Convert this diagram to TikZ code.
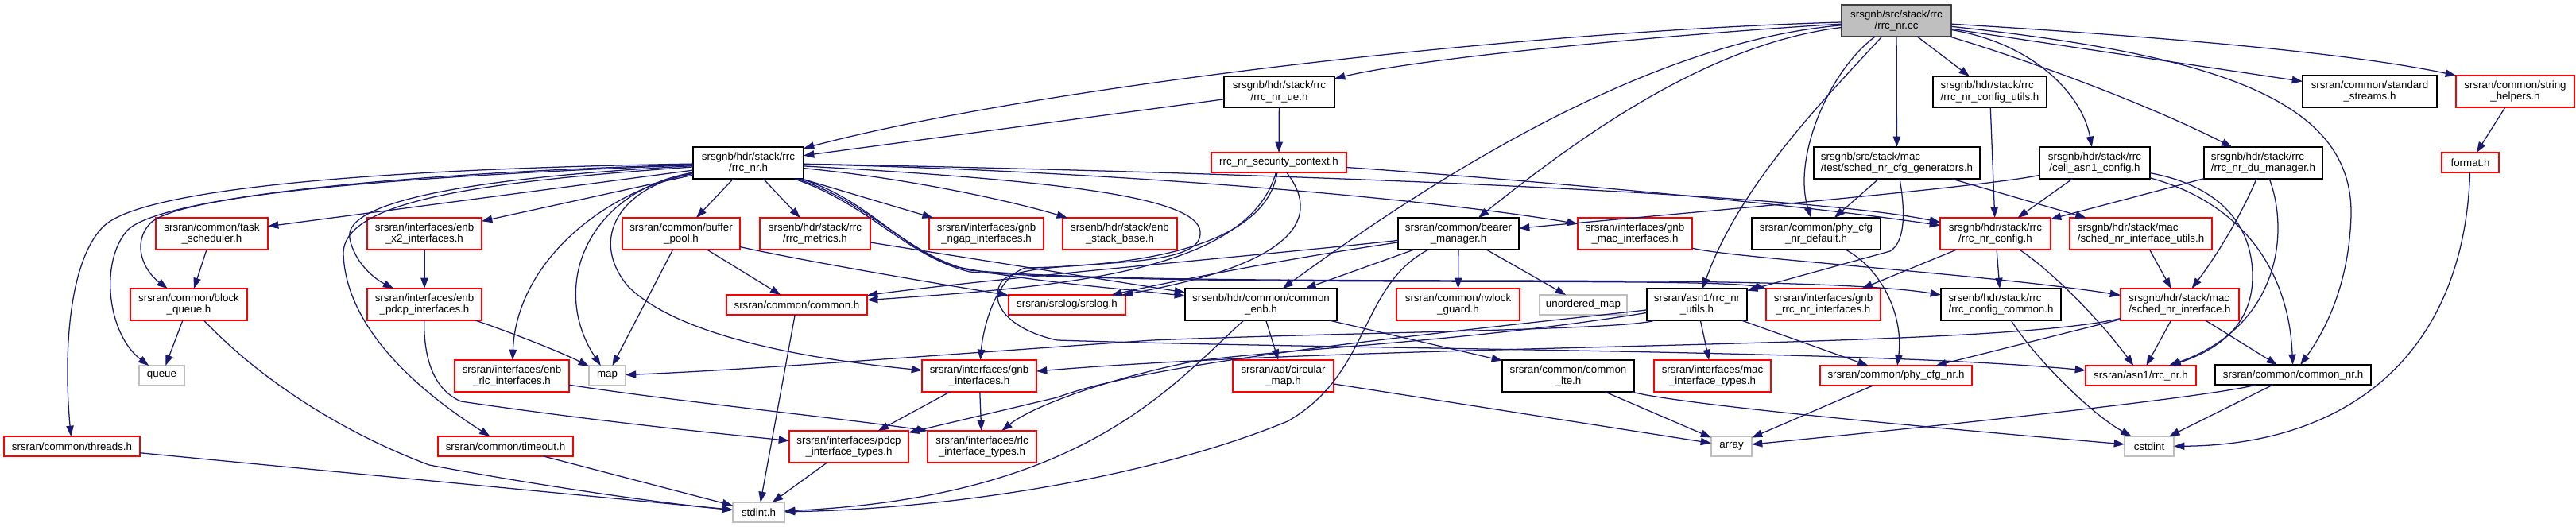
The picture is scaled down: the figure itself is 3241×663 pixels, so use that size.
\documentclass[tikz,border=0pt]{standalone}
\usepackage{fontspec}
\setmainfont{Liberation Sans}
\usetikzlibrary{arrows.meta}
\definecolor{edgeblue}{HTML}{191970}
\definecolor{nodegray}{HTML}{BFBFBF}
\definecolor{rootborder}{HTML}{404040}
\tikzset{
  nd/.style={rectangle, inner sep=0pt, outer sep=0pt, font=\fontsize{10}{11}\selectfont, align=center, line width=0.85pt, fill=white},
  blk/.style={nd, draw=black},
  rd/.style={nd, draw=red},
  gr/.style={nd, draw=nodegray},
  rootn/.style={nd, draw=rootborder, fill=nodegray},
  edg/.style={draw=edgeblue, line width=0.95pt, -{Triangle[length=10pt,width=7pt]}}
}
\newcommand{\mkbox}[7]{%
  \pgfmathsetmacro\bxw{(#4-#2)*0.75}%
  \pgfmathsetmacro\bxh{(#5-#3)*0.75}%
  \pgfmathsetmacro\bxx{(#2+#4)/2}%
  \pgfmathsetmacro\bxy{(#3+#5)/2}%
  \node[#6, minimum width=\bxw pt, minimum height=\bxh pt] (#1) at (\bxx,\bxy) {#7};}
\begin{document}
\begin{tikzpicture}[x=0.75pt,y=-0.75pt]
\fill[white] (0,0) rectangle (3241,663);
\useasboundingbox (0,0) rectangle (3241,663);
% row 0
\mkbox{cc}{2317}{6}{2455}{46}{rootn}{srsgnb/src/stack/rrc\\/rrc\_nr.cc}
% row 1
\mkbox{ue}{1540}{96}{1679}{135}{blk}{srsgnb/hdr/stack/rrc\\/rrc\_nr\_ue.h}
\mkbox{cfgutils}{2432}{96}{2575}{135}{blk,align=left}{srsgnb/hdr/stack/rrc\\/rrc\_nr\_config\_utils.h}
\mkbox{stdstreams}{2897}{95}{3066}{135}{blk}{srsran/common/standard\\\_streams.h}
\mkbox{strhelpers}{3090}{95}{3239}{135}{rd}{srsran/common/string\\\_helpers.h}
% row 2
\mkbox{rrcnr}{872}{185}{1011}{225}{blk}{srsgnb/hdr/stack/rrc\\/rrc\_nr.h}
\mkbox{secctx}{1524}{192}{1694}{217}{rd}{rrc\_nr\_security\_context.h}
\mkbox{cfggen}{2282}{185}{2491}{225}{blk,align=left}{srsgnb/src/stack/mac\\/test/sched\_nr\_cfg\_generators.h}
\mkbox{cellasn1}{2566}{185}{2705}{225}{blk}{srsgnb/hdr/stack/rrc\\/cell\_asn1\_config.h}
\mkbox{dumgr}{2773}{185}{2922}{225}{blk,align=left}{srsgnb/hdr/stack/rrc\\/rrc\_nr\_du\_manager.h}
\mkbox{format}{3072}{192}{3144}{217}{rd}{format.h}
% row 3
\mkbox{tasksch}{196}{274}{337}{314}{rd}{srsran/common/task\\\_scheduler.h}
\mkbox{x2}{462}{274}{606}{314}{rd}{srsran/interfaces/enb\\\_x2\_interfaces.h}
\mkbox{bufpool}{783}{274}{931}{314}{rd}{srsran/common/buffer\\\_pool.h}
\mkbox{rrcmetrics}{956}{274}{1095}{314}{rd}{srsenb/hdr/stack/rrc\\/rrc\_metrics.h}
\mkbox{ngap}{1169}{274}{1313}{314}{rd}{srsran/interfaces/gnb\\\_ngap\_interfaces.h}
\mkbox{stackbase}{1337}{274}{1481}{314}{rd}{srsenb/hdr/stack/enb\\\_stack\_base.h}
\mkbox{bearer}{1759}{274}{1911}{314}{blk}{srsran/common/bearer\\\_manager.h}
\mkbox{macif}{1985}{274}{2129}{314}{rd}{srsran/interfaces/gnb\\\_mac\_interfaces.h}
\mkbox{phydef}{2204}{274}{2366}{314}{blk}{srsran/common/phy\_cfg\\\_nr\_default.h}
\mkbox{rrccfg}{2441}{274}{2580}{314}{rd}{srsgnb/hdr/stack/rrc\\/rrc\_nr\_config.h}
\mkbox{schedutils}{2604}{274}{2783}{314}{rd,align=left}{srsgnb/hdr/stack/mac\\/sched\_nr\_interface\_utils.h}
% row 4
\mkbox{blockq}{164}{363}{311}{403}{rd}{srsran/common/block\\\_queue.h}
\mkbox{pdcpif}{462}{363}{606}{403}{rd}{srsran/interfaces/enb\\\_pdcp\_interfaces.h}
\mkbox{common}{914}{371}{1091}{396}{rd}{srsran/common/common.h}
\mkbox{srslog}{1269}{371}{1416}{396}{rd}{srsran/srslog/srslog.h}
\mkbox{commonenb}{1491}{363}{1682}{403}{blk}{srsenb/hdr/common/common\\\_enb.h}
\mkbox{rwlock}{1757}{363}{1912}{403}{rd}{srsran/common/rwlock\\\_guard.h}
\mkbox{umap}{1937}{371}{2047}{396}{gr}{unordered\_map}
\mkbox{nrutils}{2072}{363}{2198}{403}{blk}{srsran/asn1/rrc\_nr\\\_utils.h}
\mkbox{rrcnrif}{2222}{363}{2366}{403}{rd}{srsran/interfaces/gnb\\\_rrc\_nr\_interfaces.h}
\mkbox{cfgcommon}{2442}{363}{2593}{403}{blk,align=left}{srsenb/hdr/stack/rrc\\/rrc\_config\_common.h}
\mkbox{schedif}{2668}{363}{2817}{403}{rd,align=left}{srsgnb/hdr/stack/mac\\/sched\_nr\_interface.h}
% row 5
\mkbox{queue}{175}{460}{232}{485}{gr}{queue}
\mkbox{rlcif}{572}{453}{716}{493}{rd}{srsran/interfaces/enb\\\_rlc\_interfaces.h}
\mkbox{map}{741}{460}{787}{485}{gr}{map}
\mkbox{gnbif}{1160}{453}{1304}{493}{rd}{srsran/interfaces/gnb\\\_interfaces.h}
\mkbox{cmap}{1551}{453}{1678}{493}{rd}{srsran/adt/circular\\\_map.h}
\mkbox{commonlte}{1890}{453}{2056}{493}{blk}{srsran/common/common\\\_lte.h}
\mkbox{mactypes}{2081}{453}{2228}{493}{rd}{srsran/interfaces/mac\\\_interface\_types.h}
\mkbox{phycfg}{2290}{460}{2481}{485}{rd}{srsran/common/phy\_cfg\_nr.h}
\mkbox{asn1rrc}{2624}{460}{2763}{485}{rd}{srsran/asn1/rrc\_nr.h}
\mkbox{commonnr}{2787}{459}{2983}{484}{blk}{srsran/common/common\_nr.h}
% row 6
\mkbox{threads}{5}{549}{176}{574}{rd}{srsran/common/threads.h}
\mkbox{timeout}{551}{549}{721}{574}{rd}{srsran/common/timeout.h}
\mkbox{pdcptypes}{993}{542}{1143}{582}{rd}{srsran/interfaces/pdcp\\\_interface\_types.h}
\mkbox{rlctypes}{1167}{542}{1304}{582}{rd}{srsran/interfaces/rlc\\\_interface\_types.h}
\mkbox{array}{2153}{549}{2204}{574}{gr}{array}
\mkbox{cstdint}{2673}{549}{2735}{574}{gr}{cstdint}
% row 7
\mkbox{stdint}{922}{632}{987}{657}{gr}{stdint.h}

% ---- edges from rrc_nr.cc
\draw[edg] (cc) .. controls (1900,40) and (1300,110) .. (rrcnr);
\draw[edg] (cc) .. controls (2150,40) and (1800,70) .. (ue);
\draw[edg] (cc) -- (cfgutils);
\draw[edg] (cc) -- (cfggen);
\draw[edg] (cc) .. controls (2560,55) and (2620,120) .. (cellasn1);
\draw[edg] (cc) .. controls (2550,75) and (2700,130) .. (dumgr);
\draw[edg] (cc) -- (stdstreams);
\draw[edg] (cc) .. controls (2700,45) and (2950,65) .. (strhelpers.north west);
\draw[edg] (cc) .. controls (2800,70) and (2960,130) .. (2958,270) .. controls (2956,350) and (2930,410) .. (commonnr);
\draw[edg] (cc) .. controls (2150,55) and (1990,170) .. (bearer);
\draw[edg] (cc) .. controls (2100,50) and (1850,190) .. (commonenb);
\draw[edg] (cc) .. controls (2300,120) and (2190,230) .. (nrutils);
\draw[edg] (cc) .. controls (2300,90) and (2255,200) .. (phydef);
% ---- second level
\draw[edg] (ue) -- (rrcnr);
\draw[edg] (ue) -- (secctx);
\draw[edg] (strhelpers) -- (format);
\draw[edg] (format) .. controls (3100,450) and (2950,560) .. (cstdint);
\draw[edg] (cfgutils) -- (rrccfg);
\draw[edg] (cfggen) -- (phydef);
\draw[edg] (cfggen) -- (schedutils);
\draw[edg] (cfggen) .. controls (2398,270) and (2396,305) .. (2378,316) -- (nrutils);
\draw[edg] (cellasn1) .. controls (2500,235) and (2100,270) .. (bearer);
\draw[edg] (cellasn1) -- (rrccfg);
\draw[edg] (cellasn1) .. controls (2800,235) and (2835,290) .. (2834,350) .. controls (2833,410) and (2790,440) .. (asn1rrc);
\draw[edg] (cellasn1) .. controls (2820,255) and (2880,340) .. (commonnr);
\draw[edg] (dumgr) -- (rrccfg);
\draw[edg] (dumgr) .. controls (2820,270) and (2790,320) .. (schedif);
\draw[edg] (dumgr) .. controls (2880,290) and (2870,410) .. (asn1rrc);
\draw[edg] (phydef) .. controls (2370,340) and (2395,400) .. (phycfg);
\draw[edg] (rrccfg) -- (rrcnrif);
\draw[edg] (rrccfg) -- (cfgcommon);
\draw[edg] (rrccfg) .. controls (2580,340) and (2640,400) .. (asn1rrc);
\draw[edg] (schedutils) -- (schedif);
\draw[edg] (schedif) -- (asn1rrc);
\draw[edg] (schedif) -- (commonnr);
\draw[edg] (schedif) -- (phycfg);
\draw[edg] (schedif) .. controls (2500,440) and (1750,430) .. (gnbif);
\draw[edg] (macif) .. controls (2180,325) and (2500,345) .. (schedif);
\draw[edg] (nrutils) -- (mactypes);
\draw[edg] (nrutils) -- (phycfg);
\draw[edg] (nrutils) .. controls (1800,420) and (1450,455) .. (1330,500) -- (pdcptypes);
\draw[edg] (nrutils) .. controls (1850,430) and (1600,440) .. (1500,455) .. controls (1400,475) and (1300,510) .. (rlctypes);
\draw[edg] (nrutils) .. controls (2050,415) and (1700,418) .. (1450,428) .. controls (1200,445) and (950,465) .. (map);
\draw[edg] (bearer) -- (rwlock);
\draw[edg] (bearer) -- (umap);
\draw[edg] (bearer) -- (commonenb);
\draw[edg] (bearer) .. controls (1710,360) and (1725,470) .. (1620,530) .. controls (1450,600) and (1200,640) .. (stdint);
\draw[edg] (bearer) .. controls (1600,320) and (1250,350) .. (common);
\draw[edg] (bearer) .. controls (1620,325) and (1470,355) .. (srslog);
\draw[edg] (secctx) .. controls (1900,225) and (2250,255) .. (rrccfg);
\draw[edg] (secctx) .. controls (1570,340) and (1350,360) .. (common);
\draw[edg] (secctx) .. controls (1660,270) and (1640,330) .. (srslog);
\draw[edg] (secctx) .. controls (1590,320) and (1400,335) .. (1290,337) .. controls (1250,350) and (1236,420) .. (gnbif);
\draw[edg] (commonenb) -- (cmap);
\draw[edg] (commonenb) -- (commonlte);
\draw[edg] (commonenb) .. controls (1470,490) and (1360,625) .. (stdint);
\draw[edg] (commonlte) -- (array);
\draw[edg] (commonlte) .. controls (2120,510) and (2450,540) .. (cstdint);
\draw[edg] (cmap) -- (array);
\draw[edg] (phycfg) -- (array);
\draw[edg] (commonnr) .. controls (2780,500) and (2400,540) .. (array);
\draw[edg] (commonnr) -- (cstdint);
\draw[edg] (cfgcommon) .. controls (2560,450) and (2630,520) .. (cstdint);
\draw[edg] (rrcmetrics) -- (commonenb);
\draw[edg] (bufpool) -- (common);
\draw[edg] (bufpool) -- (map);
\draw[edg] (bufpool) .. controls (1000,326) and (1150,352) .. (srslog);
\draw[edg] (common) -- (stdint);
\draw[edg] (tasksch) -- (blockq);
\draw[edg] (blockq) -- (queue);
\draw[edg] (blockq) .. controls (320,470) and (420,540) .. (540,585) .. controls (700,615) and (850,635) .. (stdint);
\draw[edg] (threads) -- (stdint);
\draw[edg] (timeout) -- (stdint);
\draw[edg] (x2) -- (pdcpif);
\draw[edg] (pdcpif) .. controls (620,410) and (700,440) .. (map);
\draw[edg] (pdcpif) .. controls (533,450) and (545,490) .. (580,505) .. controls (750,530) and (900,545) .. (pdcptypes);
\draw[edg] (rlcif) .. controls (850,505) and (1050,525) .. (rlctypes.north west);
\draw[edg] (gnbif) -- (pdcptypes);
\draw[edg] (gnbif) -- (rlctypes);
\draw[edg] (pdcptypes) -- (stdint);
% ---- edges from rrc_nr.h
\draw[edg] (rrcnr) .. controls (500,212) and (180,235) .. (130,285) .. controls (85,330) and (80,450) .. (threads);
\draw[edg] (rrcnr) .. controls (500,218) and (200,248) .. (160,290) .. controls (125,330) and (135,420) .. (queue);
\draw[edg] (rrcnr) .. controls (500,222) and (230,245) .. (190,280) .. controls (165,305) and (180,340) .. (blockq);
\draw[edg] (rrcnr) -- (tasksch);
\draw[edg] (rrcnr) -- (x2);
\draw[edg] (rrcnr) .. controls (620,222) and (430,250) .. (440,300) .. controls (446,330) and (470,350) .. (pdcpif);
\draw[edg] (rrcnr) .. controls (620,228) and (430,250) .. (432,320) .. controls (436,420) and (540,500) .. (timeout);
\draw[edg] (rrcnr) .. controls (760,240) and (650,330) .. (rlcif);
\draw[edg] (rrcnr) .. controls (740,240) and (690,360) .. (map);
\draw[edg] (rrcnr) -- (bufpool);
\draw[edg] (rrcnr) -- (rrcmetrics);
\draw[edg] (rrcnr) -- (ngap);
\draw[edg] (rrcnr) .. controls (1150,225) and (1280,255) .. (stackbase);
\draw[edg] (rrcnr) .. controls (1400,215) and (1800,250) .. (macif);
\draw[edg] (rrcnr) .. controls (780,235) and (740,300) .. (790,360) .. controls (850,420) and (1000,450) .. (gnbif);
\draw[edg] (rrcnr) .. controls (1090,250) and (1130,310) .. (1200,335) .. controls (1300,355) and (1400,362) .. (commonenb);
\draw[edg] (rrcnr) .. controls (1500,215) and (2250,240) .. (rrccfg);
\draw[edg] (rrcnr) .. controls (1095,255) and (1140,320) .. (1220,340) .. controls (1500,365) and (2250,340) .. (cfgcommon);
\draw[edg] (rrcnr) .. controls (1095,258) and (1140,322) .. (1220,342) .. controls (1500,362) and (2150,348) .. (rrcnrif.north west);
\draw[edg] (rrcnr) .. controls (1350,228) and (1515,250) .. (1510,295) .. controls (1508,345) and (1300,322) .. (1262,352) .. controls (1240,380) and (1270,415) .. (1330,428) .. controls (1700,440) and (2350,440) .. (asn1rrc);
\end{tikzpicture}
\end{document}
